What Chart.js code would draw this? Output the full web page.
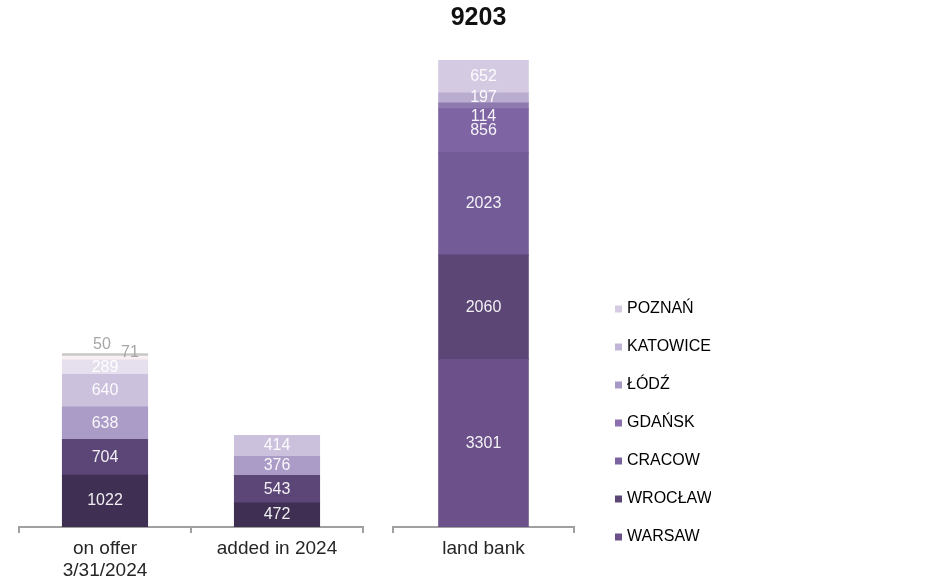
<!DOCTYPE html>
<html>
<head>
<meta charset="utf-8">
<script src="https://cdn.jsdelivr.net/npm/chart.js@4.4.1/dist/chart.umd.min.js"></script>
<style>
  body { margin: 0; background: #fff; }
  #wrap { position: relative; width: 933px; height: 583px; }
  canvas { position: absolute; top: 0; }
  #flows { left: 0; }
  #bank { left: 380px; }
</style>
</head>
<body>
<div id="wrap">
  <canvas id="flows" width="380" height="583"></canvas>
  <canvas id="bank" width="553" height="583"></canvas>
</div>
<script>
// units per city: on offer, added in 2024, land bank
const categories = [['on offer', '3/31/2024'], 'added in 2024', 'land bank'];
const cities = ['WARSAW', 'WROCŁAW', 'CRACOW', 'GDAŃSK', 'ŁÓDŹ', 'KATOWICE', 'POZNAŃ'];
const warsaw = [1022, 472, 3301];
const wroclaw = [704, 543, 2060];
const cracow = [638, 376, 2023];
const gdansk = [640, 414, 856];
const lodz = [289, null, 114];
const katowice = [71, null, 197];
const poznan = [50, null, 652];
const values = [warsaw, wroclaw, cracow, gdansk, lodz, katowice, poznan];

// colours, bottom of the stack first
const flowShades = ['#3f2f53', '#5b4677', '#ab9bc7', '#cbc1dd', '#e6e0ee', '#f7eff2', '#c8c8c8'];
const bankShades = ['#6b5089', '#5b4676', '#735b97', '#7e64a3', '#8f7ab0', '#b9accf', '#d4cbe2'];
const keyShades = ['#6b5089', '#5b4676', '#7b62a1', '#8b6fae', '#a898c5', '#c0b5d5', '#d5cce3'];

// thin segments get their label moved off the bar
const labelShift = {
  'KATOWICE|on offer': { dx: 25, dy: -6, color: '#a6a6a6' },
  'POZNAŃ|on offer': { dx: -3, dy: -10, color: '#a6a6a6' },
  'ŁÓDŹ|land bank': { dx: 0, dy: 11 }
};

const FONT = '"Liberation Sans", Arial, sans-serif';
const bankTotal = values.reduce((s, v) => s + v[2], 0);

const segmentLabels = {
  id: 'segmentLabels',
  afterDatasetsDraw(chart) {
    const ctx = chart.ctx;
    ctx.save();
    ctx.font = '16px ' + FONT;
    ctx.textAlign = 'center';
    ctx.textBaseline = 'middle';
    chart.data.datasets.forEach((ds, i) => {
      chart.getDatasetMeta(i).data.forEach((bar, j) => {
        const v = ds.data[j];
        if (v == null) return;
        const cat = chart.data.labels[j];
        const key = ds.label + '|' + (Array.isArray(cat) ? cat[0] : cat);
        const s = labelShift[key] || { dx: 0, dy: 0 };
        ctx.fillStyle = s.color || 'rgba(255,255,255,0.92)';
        ctx.fillText(String(v), bar.x + s.dx, (bar.y + bar.base) / 2 + s.dy);
      });
    });
    ctx.restore();
  }
};

// total printed above the land bank column
const stackTotal = {
  id: 'stackTotal',
  afterDatasetsDraw(chart) {
    const metas = chart.data.datasets.map((d, i) => chart.getDatasetMeta(i));
    const top = metas[metas.length - 1].data[0];
    const total = chart.data.datasets.reduce((s, d) => s + (d.data[0] || 0), 0);
    const ctx = chart.ctx;
    ctx.save();
    ctx.font = 'bold 25px ' + FONT;
    ctx.fillStyle = '#111';
    ctx.textAlign = 'center';
    ctx.textBaseline = 'middle';
    ctx.fillText(String(total), top.x - 5, top.y - 42);
    ctx.restore();
  }
};

function xAxis(height) {
  return {
    stacked: true,
    grid: { offset: true, drawOnChartArea: false, drawTicks: true, tickLength: 6, color: '#a0a0a0', lineWidth: 2 },
    border: { display: true, color: '#a0a0a0', width: 2 },
    ticks: { color: '#262626', padding: 5, font: { family: FONT, size: 19, lineHeight: 1.15 } },
    afterFit(scale) { scale.height = height; }
  };
}

function stackSet(c, i, data, shades) {
  return {
    label: c,
    data: data,
    backgroundColor: shades[i],
    borderWidth: 0,
    inflateAmount: 0.5,
    categoryPercentage: 0.5,
    barPercentage: 0.99
  };
}

const flows = new Chart(document.getElementById('flows'), {
  type: 'bar',
  data: {
    labels: categories.slice(0, 2),
    datasets: cities.map((c, i) => stackSet(c, i, values[i].slice(0, 2), flowShades))
  },
  options: {
    responsive: false,
    animation: false,
    layout: { padding: { top: 60, left: 19, right: 17, bottom: 0 } },
    plugins: { legend: { display: false }, tooltip: { enabled: false } },
    scales: {
      x: xAxis(56),
      y: { display: false, stacked: true, min: 0, max: bankTotal }
    }
  },
  plugins: [segmentLabels]
});

const bank = new Chart(document.getElementById('bank'), {
  type: 'bar',
  data: {
    labels: categories.slice(2),
    datasets: cities.map((c, i) => stackSet(c, i, values[i].slice(2), bankShades))
  },
  options: {
    responsive: false,
    animation: false,
    layout: { padding: { top: 60, left: 13, right: 222, bottom: 16 } },
    plugins: {
      tooltip: { enabled: false },
      legend: {
        position: 'right',
        align: 'end',
        reverse: true,
        maxWidth: 115,
        labels: {
          usePointStyle: true,
          boxWidth: 1,
          boxHeight: 7,
          padding: 22,
          color: '#262626',
          font: { family: FONT, size: 16 },
          generateLabels(chart) {
            return chart.data.datasets.map((ds, i) => ({
              text: ds.label,
              fillStyle: keyShades[i],
              strokeStyle: keyShades[i],
              lineWidth: 0,
              pointStyle: 'rect',
              hidden: false,
              datasetIndex: i
            }));
          }
        }
      }
    },
    scales: {
      x: xAxis(40),
      y: {
        position: 'right',
        stacked: true,
        min: 0,
        max: bankTotal,
        ticks: { display: false },
        grid: { display: false },
        border: { display: false },
        afterFit(scale) { scale.width = 22; }
      }
    }
  },
  plugins: [segmentLabels, stackTotal]
});
</script>
</body>
</html>
